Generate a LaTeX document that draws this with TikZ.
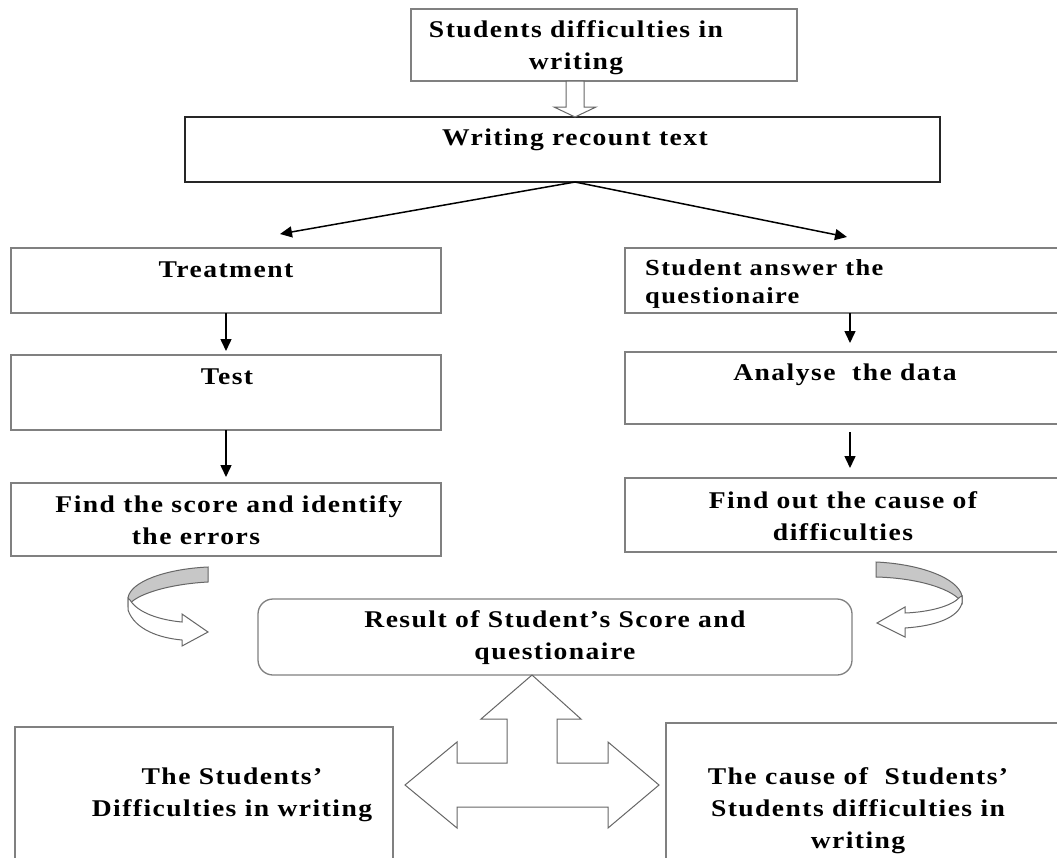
\documentclass[tikz,border=0pt]{standalone}
\usepackage{fontspec}
\setmainfont{Liberation Serif}[FakeStretch=1.15,LetterSpace=6]
\usetikzlibrary{arrows.meta}
\begin{document}
\begin{tikzpicture}[x=1pt,y=-1pt,
  box/.style={draw=black!50, line width=1.3pt, rectangle, inner sep=0pt, outer sep=0pt},
  txt/.style={font=\bfseries\fontsize{24}{32}\selectfont, align=center, inner sep=0pt},
  conn/.style={draw=black, line width=1.5pt, -{Triangle[length=12pt,width=11pt]}},
  blk/.style={draw=black!60, line width=1pt, fill=white, line join=miter},
  back/.style={draw=black!60, line width=1pt, fill=black!22}]
\clip (0,0) rectangle (1057,857);
\fill[white] (0,0) rectangle (1057,857);
% boxes
\node[box, minimum width=386pt, minimum height=72pt] (top) at (604,45) {};
\node[box, draw=black!85, minimum width=755pt, minimum height=65pt] (recount) at (562.5,149.5) {};
\node[box, minimum width=430pt, minimum height=65pt] (treat) at (226,280.5) {};
\node[box, minimum width=430pt, minimum height=75pt] (test) at (226,392.5) {};
\node[box, minimum width=430pt, minimum height=73pt] (find) at (226,519.5) {};
\node[box, minimum width=450pt, minimum height=65pt] (stud) at (850,280.5) {};
\node[box, minimum width=450pt, minimum height=72pt] (anal) at (850,388) {};
\node[box, minimum width=450pt, minimum height=74pt] (fout) at (850,515) {};
\node[box, rounded corners=15pt, minimum width=594pt, minimum height=76pt] (result) at (555,637) {};
\node[box, minimum width=378pt, minimum height=153pt] (lbox) at (204,803.5) {};
\node[box, minimum width=409pt, minimum height=157pt] (rbox) at (870.5,801.5) {};
% texts
\node[txt] (t1) at (576,48) {Students difficulties in\\writing};
\node[txt] (t2) at (575,140) {Writing recount text};
\node[txt] (t3) at (226,270) {Treatment};
\node[txt] (t4) at (227,377) {Test};
\node[txt] (t5) at (229,520) {Find the score and identify\\the errors\hspace*{66pt}};
\node[txt, align=left, anchor=west, font=\bfseries\fontsize{23}{28}\selectfont] (t6) at (645,284) {Student answer the\\questionaire};
\node[txt] (t7) at (845,375) {Analyse~ the data};
\node[txt] (t8) at (843,516) {Find out the cause of\\difficulties};
\node[txt] (t9) at (555,638) {Result of Student’s Score and\\questionaire};
\node[txt] (t10) at (232,795) {The Students’\\Difficulties in writing};
\node[txt] (t11) at (858,811) {The cause of~ Students’\\Students difficulties in\\writing};
% connectors
\coordinate (split) at (575,182);
\draw[conn] (split) -- ([xshift=54pt,yshift=14pt]treat.north);
\draw[conn] (split) -- ([xshift=-3pt,yshift=11pt]stud.north);
\draw[conn] (treat.south) -- ([yshift=4pt]test.north);
\draw[conn] (test.south) -- ([yshift=6pt]find.north);
\draw[conn] (stud.south) -- ([yshift=9pt]anal.north);
\draw[conn] ([yshift=-8pt]anal.south) -- ([yshift=10pt]fout.north);
% hollow down arrow
\draw[blk] (566,81) -- (584,81) -- (584,107) -- (596,107) -- (575,117) -- (554,107) -- (566,107) -- cycle;
% three-way arrow
\draw[blk] (532,675) -- (581,719) -- (557,719) -- (557,763) -- (608,763) -- (608,742) -- (659,785) -- (608,828) -- (608,807) -- (457,807) -- (457,828) -- (405,785) -- (457,742) -- (457,763) -- (507,763) -- (507,719) -- (481,719) -- cycle;
% left curved arrow
\draw[back] (208,567) .. controls (165,569) and (130,582) .. (128,598) -- (128,606) .. controls (135,594) and (170,584) .. (208,582) -- cycle;
\draw[blk] (128,598) -- (128,610) .. controls (135,630) and (160,638) .. (182,640) -- (182,646) -- (208,632) -- (182,614) -- (182,622) .. controls (160,620) and (138,613) .. (130,600) -- cycle;
% right curved arrow
\draw[back] (876,562) .. controls (920,564) and (958,578) .. (962,596) -- (962,603) .. controls (955,590) and (920,578) .. (876,577) -- cycle;
\draw[blk] (962,596) -- (962,603) .. controls (958,618) and (935,626) .. (905,628) -- (905,637) -- (877,623) -- (905,607) -- (905,613) .. controls (930,612) and (952,606) .. (960,597) -- cycle;
\end{tikzpicture}
\end{document}
